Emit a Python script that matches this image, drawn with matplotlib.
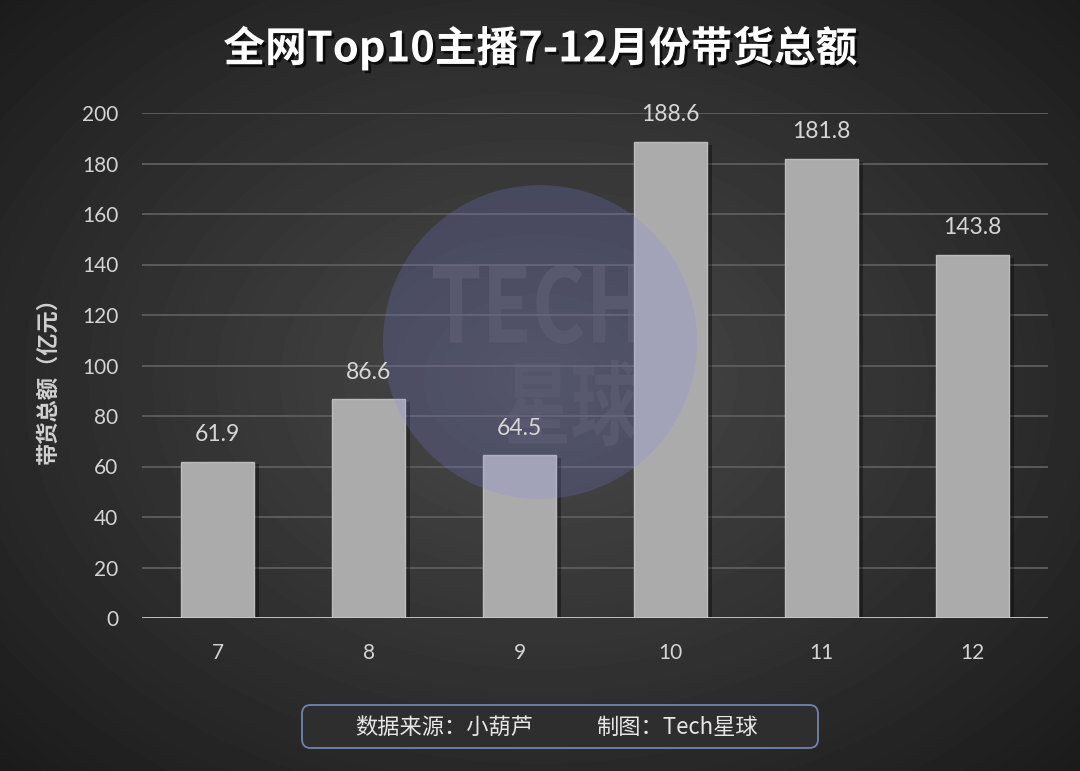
import numpy as np
import matplotlib
matplotlib.use('Agg')
import matplotlib.pyplot as plt
import matplotlib.patheffects as pe
from matplotlib.patches import Ellipse, FancyBboxPatch, PathPatch
from matplotlib.textpath import TextPath
from matplotlib.font_manager import FontProperties
from matplotlib.transforms import Affine2D

plt.rcParams['font.family'] = ['Lato', 'Noto Sans CJK SC', 'DejaVu Sans']

# 数据
months = ['7', '8', '9', '10', '11', '12']
sales = [61.9, 86.6, 64.5, 188.6, 181.8, 143.8]
y_ticks = list(range(0, 201, 20))

title = '全网Top10主播7-12月份带货总额'
ylabel = '带货总额（亿元）'
source_text = '数据来源：小葫芦'
credit_text = '制图：Tech星球'

W, H = 1080, 771
fig = plt.figure(figsize=(W / 100, H / 100), dpi=100)

# 背景渐变
bg = fig.add_axes([0, 0, 1, 1], zorder=-10)
yy, xx = np.mgrid[0:H, 0:W]
d = np.sqrt(((xx - 540) / 700) ** 2 + ((yy - 380) / 520) ** 2)
v = (74 - 48 * np.clip(d / 1.1, 0, 1)) / 255
bg.imshow(v, cmap='gray', vmin=0, vmax=1, extent=[0, 1, 0, 1],
          aspect='auto', origin='upper')
bg.axis('off')

ax = fig.add_axes([142 / W, 153 / H, 906 / W, 505 / H])
ax.set_facecolor('none')
x = np.arange(len(months))

ax.bar(x, sales, width=0.49, color='#ababab', edgecolor='#bcbcbc',
       linewidth=1, zorder=3,
       path_effects=[pe.SimplePatchShadow(offset=(3, -2), shadow_rgbFace='black', alpha=0.35),
                     pe.Normal()])

for xi, val in zip(x, sales):
    ax.annotate(f'{val:.1f}', (xi, val), xytext=(0, 19.5), textcoords='offset points',
                ha='center', va='center', fontsize=16.5, color='#d6d6d6', zorder=6)

ax.set_axisbelow(True)
ax.grid(axis='y', color='#5e5e5e', linewidth=1.3)
ax.axhline(0, color='#c8c8c8', linewidth=2, zorder=4)
for s in ax.spines.values():
    s.set_visible(False)

ax.set_yticks(y_ticks)
ax.set_xticks(x, months)
ax.tick_params(axis='both', length=0, colors='#d4d4d4', labelsize=15)
ax.tick_params(axis='y', pad=17)
ax.tick_params(axis='x', pad=18)


# 水印文字
def fit_text(s, box, prop, color):
    path = TextPath((0, 0), s, size=100, prop=prop)
    ext = path.get_extents()
    x0, y0, x1, y1 = box
    fx0, fx1 = x0 / W, x1 / W
    fy0, fy1 = 1 - y1 / H, 1 - y0 / H
    tr = (Affine2D().translate(-ext.x0, -ext.y0)
          .scale((fx1 - fx0) / ext.width, (fy1 - fy0) / ext.height)
          .translate(fx0, fy0) + fig.transFigure)
    patch = PathPatch(path, transform=tr, facecolor=color, lw=0,
                      zorder=0.2, clip_on=False)
    ax.add_artist(patch)


wm_prop = FontProperties(family='Noto Sans CJK SC', weight='bold')
fit_text('TECH', (433, 264, 640, 344), wm_prop, '#4f4f4f')
fit_text('星球', (507, 360, 636, 446), wm_prop, '#4f4f4f')

circle = Ellipse((540 / W, 1 - 342 / H), 314 / W, 314 / H, transform=fig.transFigure,
                 facecolor='#7f86f0', alpha=0.2, edgecolor='none', zorder=5, clip_on=False)
ax.add_artist(circle)

ax.set_xlim(-0.5, 5.5)
ax.set_ylim(0, 200)

fig.text(0.5, 1 - 48 / H, title, ha='center', va='center', fontsize=30,
         fontweight='bold', color='white', family=['Noto Sans CJK SC'],
         path_effects=[pe.withSimplePatchShadow(offset=(2, -2), shadow_rgbFace='black', alpha=0.7)])

fig.text(48 / W, 1 - 375 / H, ylabel, rotation=90, ha='center', va='center',
         fontsize=16, fontweight='bold', color='#d0d0d0', family=['Noto Sans CJK SC'])

box = FancyBboxPatch((302 / W, 1 - 748 / H), 516 / W, 43 / H,
                     boxstyle='round,pad=0,rounding_size=0.008',
                     mutation_aspect=W / H, transform=fig.transFigure,
                     facecolor='#2e2e2e', edgecolor='#6f84ad', linewidth=1.3)
fig.add_artist(box)
fig.text(444 / W, 1 - 727 / H, source_text, ha='center', va='center', fontsize=16,
         color='#e6e6e6', family=['Noto Sans CJK SC'])
fig.text(677 / W, 1 - 727 / H, credit_text, ha='center', va='center', fontsize=16,
         color='#e6e6e6', family=['Noto Sans CJK SC'])

fig.savefig('out.png', dpi=100)
